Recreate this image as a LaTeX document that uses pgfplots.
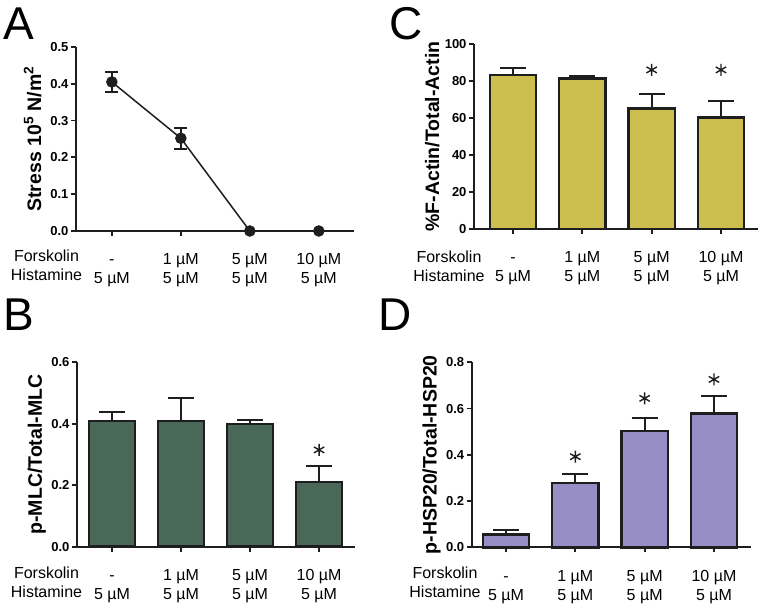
\documentclass[border=0pt]{standalone}
\usepackage{pgfplots}
\pgfplotsset{compat=1.18}
\usepackage{fontspec}
\setmainfont{Liberation Sans}
\definecolor{cB}{RGB}{74,104,88}
\definecolor{cC}{RGB}{204,191,80}
\definecolor{cD}{RGB}{150,142,196}
\definecolor{ink}{RGB}{30,30,30}
\newcommand\tickfont{\fontsize{13}{15}\selectfont\bfseries}
\newcommand\catfont{\fontsize{16}{19}\selectfont}
\newcommand\labfont{\fontsize{19.5}{22}\selectfont\bfseries}
\newcommand\letfont{\fontsize{46}{50}\selectfont}
\pgfplotsset{
  gp/.style={
    scale only axis, anchor=south west, clip=false,
    axis x line*=bottom, axis y line*=left,
    axis line style={-, line width=1.8pt, ink},
    tick style={line width=1.8pt, ink},
    major tick length=5pt, tick align=outside,
    enlargelimits=false,
    /pgf/number format/assume math mode=true,
    xtick={0,1,2,3},
    xticklabels={{\strut-\\\strut5 µM},{\strut1 µM\\\strut5 µM},{\strut5 µM\\\strut5 µM},{\strut10 µM\\\strut5 µM}},
    xticklabel style={align=center, font=\catfont, yshift=-12pt},
    yticklabel style={font=\tickfont, xshift=1pt},
    every axis y label/.style={at={(rel axis cs:0,0.5)}, xshift=-35pt, rotate=90, anchor=base, inner sep=0pt, font=\labfont},
    ymin=0,
  },
  gpbar/.style={ybar, bar width=0.67, fill=#1, draw=ink, line width=2.5pt,
    error bars/.cd, y dir=plus, y explicit,
    error bar style={line width=2pt, draw=ink, solid},
    error mark options={rotate=90, mark size=13pt, line width=2pt, ink}},
  gpstar/.style={only marks, mark=asterisk, mark size=6pt, ink, mark options={line width=1.4pt}},
}
\pgfplotstableread{
x y e
0 0.405 0.026
1 0.252 0.028
2 0 0
3 0 0
}\dataA
\pgfplotstableread{
x y e
0 0.409 0.030
1 0.409 0.076
2 0.399 0.013
3 0.211 0.053
}\dataB
\pgfplotstableread{
x y e
0 83.2 3.7
1 81.4 1.5
2 65.2 7.8
3 60.4 8.8
}\dataC
\pgfplotstableread{
x y e
0 0.056 0.019
1 0.277 0.040
2 0.503 0.055
3 0.578 0.078
}\dataD
\begin{document}
\begin{tikzpicture}
\path[use as bounding box] (0pt,0pt) rectangle (761pt,605pt);
% Panel A
\begin{axis}[gp, at={(76pt,374pt)}, width=278pt, height=184pt,
  xmin=-0.52, xmax=3.51, ymax=0.5,
  ytick={0,0.1,0.2,0.3,0.4,0.5}, yticklabels={0.0,0.1,0.2,0.3,0.4,0.5},
  ylabel={Stress 10\textsuperscript{5} N/m\textsuperscript{2}}]
\addplot[ink, line width=1.5pt, mark=*, mark size=5pt, mark options={fill=ink, solid},
  error bars/.cd, y dir=both, y explicit,
  error bar style={line width=2pt, ink},
  error mark options={rotate=90, mark size=6.5pt, line width=2pt, ink}]
  table[x=x, y=y, y error=e] {\dataA};
\end{axis}
% Panel C
\begin{axis}[gp, at={(474pt,376pt)}, width=284pt, height=185pt,
  xmin=-0.5625, xmax=3.534, ymax=100,
  ytick={0,20,40,60,80,100},
  ylabel={\%F-Actin/Total-Actin}]
\addplot[gpbar=cC] table[x=x, y=y, y error=e] {\dataC};
\addplot[gpstar] coordinates {(2,86) (3,86)};
\end{axis}
% Panel B
\begin{axis}[gp, at={(77pt,58.3pt)}, width=278pt, height=184.4pt,
  xmin=-0.507, xmax=3.52, ymax=0.6,
  ytick={0,0.2,0.4,0.6}, yticklabels={0.0,0.2,0.4,0.6},
  ylabel={p-MLC/Total-MLC}]
\addplot[gpbar=cB] table[x=x, y=y, y error=e] {\dataB};
\addplot[gpstar] coordinates {(3,0.315)};
\end{axis}
% Panel D
\begin{axis}[gp, at={(471.7pt,57.7pt)}, width=279.3pt, height=185pt,
  xmin=-0.495, xmax=3.534, ymax=0.8,
  ytick={0,0.2,0.4,0.6,0.8}, yticklabels={0.0,0.2,0.4,0.6,0.8},
  ylabel={p-HSP20/Total-HSP20}]
\addplot[gpbar=cD] table[x=x, y=y, y error=e] {\dataD};
\addplot[gpstar] coordinates {(1,0.392) (2,0.644) (3,0.726)};
\end{axis}
% row labels
\begin{scope}[every node/.style={anchor=base, font=\catfont, inner sep=0pt}]
\node at (46.5pt,343.5pt) {Forskolin};
\node at (46.5pt,324.5pt) {Histamine};
\node at (449pt,342.5pt) {Forskolin};
\node at (449pt,323.5pt) {Histamine};
\node at (46.5pt,26.5pt) {Forskolin};
\node at (46.5pt,7.5pt) {Histamine};
\node at (445pt,26.5pt) {Forskolin};
\node at (445pt,7.5pt) {Histamine};
\end{scope}
% panel letters
\begin{scope}[every node/.style={anchor=base west, font=\letfont, inner sep=0pt}]
\node at (3pt,565pt) {A};
\node at (3.5pt,274pt) {B};
\node at (389.7pt,565pt) {C};
\node at (378.5pt,274pt) {D};
\end{scope}
\end{tikzpicture}
\end{document}
